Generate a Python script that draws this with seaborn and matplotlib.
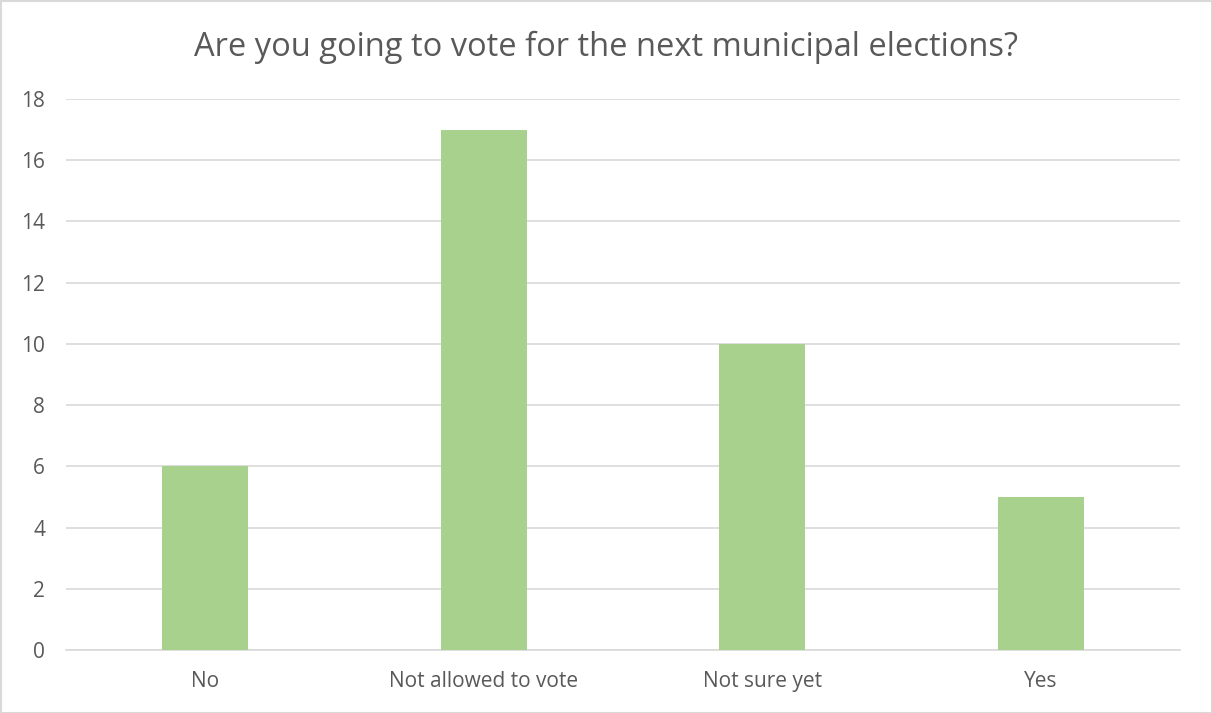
import matplotlib
matplotlib.use("Agg")
import matplotlib.pyplot as plt
import seaborn as sns
import pandas as pd
from matplotlib.patches import Rectangle

categories = ["No", "Not allowed to vote", "Not sure yet", "Yes"]
counts = [6, 17, 10, 5]
y_ticks = [0, 2, 4, 6, 8, 10, 12, 14, 16, 18]
title = "Are you going to vote for the next municipal elections?"

sns.set_theme(style="white")
plt.rcParams['font.family'] = ['Open Sans', 'DejaVu Sans']

df = pd.DataFrame({"category": categories, "count": counts})

fig = plt.figure(figsize=(12.12, 7.13), dpi=100)
ax = fig.add_axes([66/1212, 63/713, 1114/1212, 551/713])

sns.barplot(data=df, x="category", y="count", color="#A9D18E", width=0.31,
            saturation=1, ax=ax, zorder=3, linewidth=0)

ax.set_ylim(0, 18)
ax.set_yticks(y_ticks)
ax.set_xlim(-0.5, 3.5)
ax.yaxis.grid(True, color="#D9D9D9", linewidth=1.2, zorder=0)
ax.set_axisbelow(True)
for s in ["top", "right", "left"]:
    ax.spines[s].set_visible(False)
ax.spines["bottom"].set_color("#D9D9D9")
ax.spines["bottom"].set_linewidth(1.2)
ax.tick_params(axis="both", length=0, labelsize=15, colors="#595959")
ax.tick_params(axis="x", pad=15)
ax.tick_params(axis="y", pad=15)
ax.set_xlabel("")
ax.set_ylabel("")

fig.text(0.5, 1 - 47/713, title, ha="center", va="center", fontsize=23.5, color="#595959")

fig.patches.append(Rectangle((0.5/1212, 0.5/713), 1 - 1/1212, 1 - 1/713, transform=fig.transFigure,
                             fill=False, edgecolor="#D9D9D9", linewidth=1.5))

fig.savefig("out.png", dpi=100)
